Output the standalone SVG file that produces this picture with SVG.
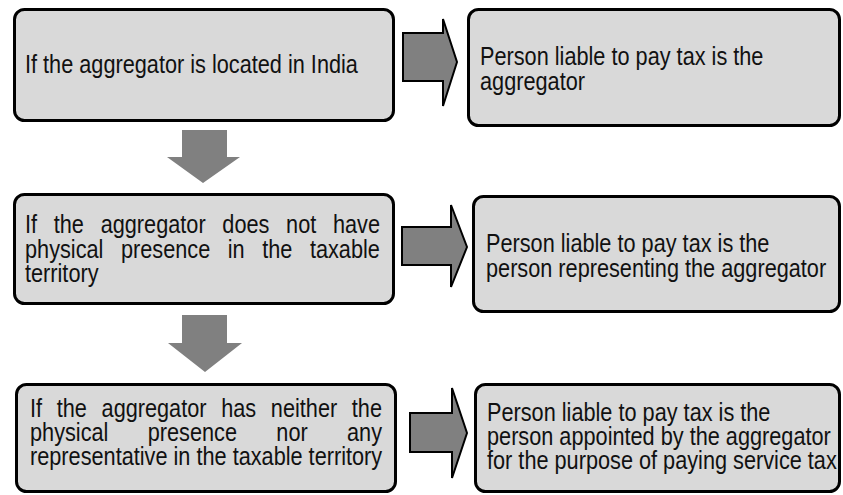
<svg xmlns="http://www.w3.org/2000/svg" width="843" height="495" viewBox="0 0 843 495">
  <style>
    .box { fill: #d9d9d9; stroke: #000; stroke-width: 3; }
    .lbl { font-family: "Liberation Sans", Arial, sans-serif; font-size: 26px; fill: #111; }
    .side { fill: #808080; stroke: #000; stroke-width: 2; stroke-linejoin: miter; }
    .down { fill: #808080; stroke: none; }
  </style>
  <rect width="843" height="495" fill="#fff"/>

  <!-- flow connectors: block arrows -->
  <g id="connectors">
    <polygon class="side" points="403,33 443,33 443,19 457,62 443,106 443,81 403,81"/>
    <polygon class="side" points="402,227 451,227 451,205 467,247 451,287 451,265 402,265"/>
    <polygon class="side" points="410,413 452,413 452,388 467,433 452,478 452,452 410,452"/>
    <polygon class="down" points="182,130 227,130 227,157 240,157 203,183 167,157 182,157"/>
    <polygon class="down" points="182,315 227,315 227,343 242,343 205,372 168,343 182,343"/>
  </g>

  <g id="cond-india">
    <rect class="box" x="14.5" y="9.5" width="379" height="111" rx="10"/>
    <text class="lbl" transform="translate(25,73) scale(0.835,1)">If the aggregator is located in India</text>
  </g>

  <g id="liable-aggregator">
    <rect class="box" x="468.5" y="9.5" width="371" height="116" rx="10"/>
    <text class="lbl" transform="translate(480,65) scale(0.835,1)">Person liable to pay tax is the</text>
    <text class="lbl" transform="translate(480,90) scale(0.835,1)">aggregator</text>
  </g>

  <g id="cond-no-presence">
    <rect class="box" x="14.5" y="194.5" width="379" height="109" rx="10"/>
    <text class="lbl" transform="translate(25,233) scale(0.835,1)" word-spacing="12.8">If the aggregator does not have</text>
    <text class="lbl" transform="translate(25,258) scale(0.835,1)" word-spacing="13.8">physical presence in the taxable</text>
    <text class="lbl" transform="translate(25,282) scale(0.835,1)">territory</text>
  </g>

  <g id="liable-representative">
    <rect class="box" x="473.5" y="196.5" width="366" height="115" rx="10"/>
    <text class="lbl" transform="translate(486,252) scale(0.835,1)">Person liable to pay tax is the</text>
    <text class="lbl" transform="translate(486,277) scale(0.835,1)">person representing the aggregator</text>
  </g>

  <g id="cond-no-representative">
    <rect class="box" x="16.5" y="384.5" width="379" height="107" rx="10"/>
    <text class="lbl" transform="translate(30,417) scale(0.835,1)" word-spacing="10.35">If the aggregator has neither the</text>
    <text class="lbl" transform="translate(30,441) scale(0.835,1)" word-spacing="39.9">physical presence nor any</text>
    <text class="lbl" transform="translate(30,465) scale(0.835,1)">representative in the taxable territory</text>
  </g>

  <g id="liable-appointee">
    <rect class="box" x="475.5" y="384.5" width="364" height="107" rx="10"/>
    <text class="lbl" transform="translate(487,421) scale(0.835,1)">Person liable to pay tax is the</text>
    <text class="lbl" transform="translate(487,445) scale(0.835,1)">person appointed by the aggregator</text>
    <text class="lbl" transform="translate(487,469) scale(0.835,1)">for the purpose of paying service tax</text>
  </g>
</svg>
